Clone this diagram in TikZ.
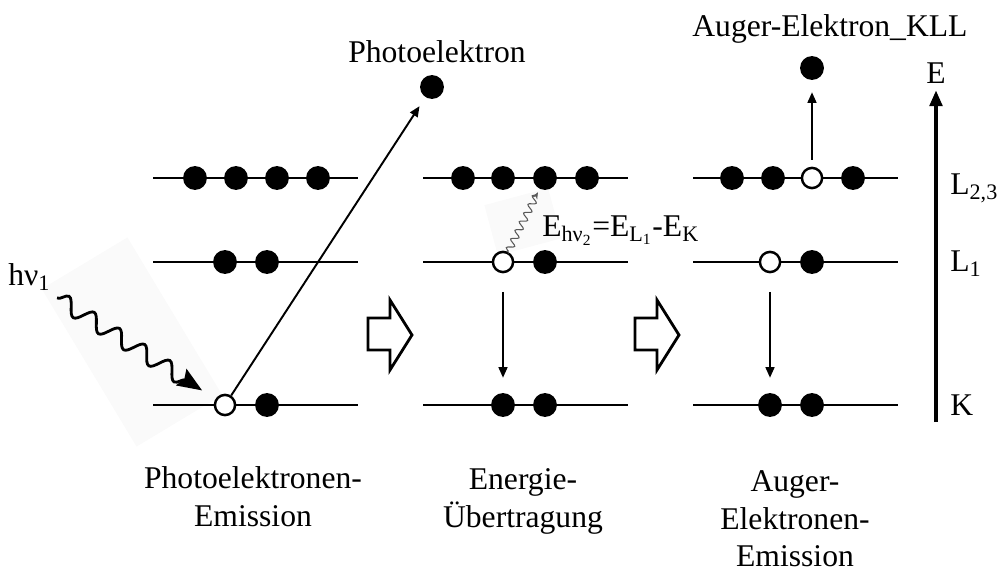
\documentclass[tikz,border=0pt]{standalone}
\usepackage{fontspec}
\setmainfont{Liberation Serif}
\usetikzlibrary{arrows.meta,decorations.pathmorphing}

\begin{document}
\begin{tikzpicture}[x=0.02cm,y=-0.02cm,
    font=\fontsize{18}{21.5}\selectfont,
    level/.style={line width=1.7pt},
    elec/.style={circle,fill=black,inner sep=0pt,minimum size=13.6pt},
    hole/.style={circle,draw=black,line width=1.4pt,fill=white,inner sep=0pt,minimum size=11.5pt},
    trans/.style={line width=1.1pt,-{Triangle[length=6pt,width=5pt]}},
    photon/.style={line width=1.6pt,decorate,
        decoration={snake,amplitude=4.5pt,segment length=17pt,post length=15pt},
        -{Stealth[length=14pt,width=11pt,inset=2pt]}},
    softphoton/.style={black!65,line width=0.6pt,decorate,
        decoration={snake,amplitude=2pt,segment length=5.5pt,post length=3pt},
        -{Stealth[length=4pt,width=3pt]}},
    nextstep/.style={line width=1.6pt,line join=miter},
    axis/.style={line width=2.3pt,-{Triangle[length=9pt,width=7pt]}},
    label/.style={inner sep=0pt,align=center}
]

    % Define parameters
    \def\lup{178}
    \def\lmid{262}
    \def\lk{405}

    \useasboundingbox (0,0) rectangle (998,574);

    % Faint backgrounds behind the photons
    \fill[black!2,rotate around={31:(132,342)}] (82,250) rectangle (182,434);
    \fill[black!2,rotate around={15:(522,222)}] (490,196) rectangle (556,248);

    % Energy levels
    \foreach \x in {153,423,693}
        \foreach \y in {\lup,\lmid,\lk}
            \draw[level] (\x,\y) -- ++(205,0);

    % Photoelectron emission
    \foreach \x [count=\i] in {195,236,277,318}
        \node[elec] (a3\i) at (\x,\lup) {};
    \node[elec] (a2a) at (225,\lmid) {};
    \node[elec] (a2b) at (267,\lmid) {};
    \node[hole] (a1a) at (225,\lk) {};
    \node[elec] (a1b) at (267,\lk) {};
    \node[elec] (pe) at (432,87) {};
    \node[anchor=base] (pelabel) at (437,63) {Photoelektron};
    \node[anchor=base west,inner sep=0pt] (hvlabel) at (8,286) {hν\textsubscript{1}};
    \coordinate (hv) at (57,298);
    \draw[photon,shorten >=9pt] (hv) -- (a1a);
    \draw[trans,shorten >=6pt] (a1a) -- (pe);

    % Energy transfer
    \foreach \x [count=\i] in {463,503,545,587}
        \node[elec] (b3\i) at (\x,\lup) {};
    \node[hole] (b2a) at (503,\lmid) {};
    \node[elec] (b2b) at (545,\lmid) {};
    \node[elec] (b1a) at (503,\lk) {};
    \node[elec] (b1b) at (545,\lk) {};
    \draw[trans,shorten <=10.5pt,shorten >=8.5pt] (b2a) -- (b1a);
    \draw[softphoton,shorten <=1pt,shorten >=2pt] (b2a) -- (b33);
    \node[anchor=base west,inner sep=0pt] (elabel) at (542,237)
        {E\textsubscript{hν\textsubscript{2}}=E\textsubscript{L\textsubscript{1}}-E\textsubscript{K}};

    % Auger electron emission
    \node[elec] (c31) at (732,\lup) {};
    \node[elec] (c32) at (773,\lup) {};
    \node[hole] (c33) at (812,\lup) {};
    \node[elec] (c34) at (853,\lup) {};
    \node[hole] (c2a) at (770,\lmid) {};
    \node[elec] (c2b) at (812,\lmid) {};
    \node[elec] (c1a) at (770,\lk) {};
    \node[elec] (c1b) at (812,\lk) {};
    \node[elec] (ae) at (812,68) {};
    \node[anchor=base west,inner sep=0pt] (aelabel) at (692,37) {Auger-Elektron\_KLL};
    \draw[trans,shorten <=10.5pt,shorten >=8.5pt] (c2a) -- (c1a);
    \draw[trans,shorten <=4pt,shorten >=6.8pt] (c33) -- (ae);

    % Step arrows
    \foreach \dx in {0,267}
        \draw[nextstep,xshift=\dx*0.02cm] (368,318) -- (390,318) -- (390,300) -- (412,335)
            -- (390,370) -- (390,350) -- (368,350) -- cycle;

    % Energy axis
    \coordinate (ebot) at (936,422);
    \node[anchor=base] (elab) at (936,84) {E};
    \draw[axis] (ebot) -- (elab.south);
    \node[anchor=base west,inner sep=0pt] (l23) at (950,195) {L\textsubscript{2,3}};
    \node[anchor=base west,inner sep=0pt] (l1) at (950,272) {L\textsubscript{1}};
    \node[anchor=base west,inner sep=0pt] (lk) at (950,416) {K};

    % Step captions
    \node[label,anchor=north] (cap1) at (253,466) {Photoelektronen-\\Emission};
    \node[label,anchor=north] (cap2) at (523,468) {Energie-\\Übertragung};
    \node[label,anchor=north] (cap3) at (795,470) {Auger-\\Elektronen-\\Emission};
\end{tikzpicture}
\end{document}
